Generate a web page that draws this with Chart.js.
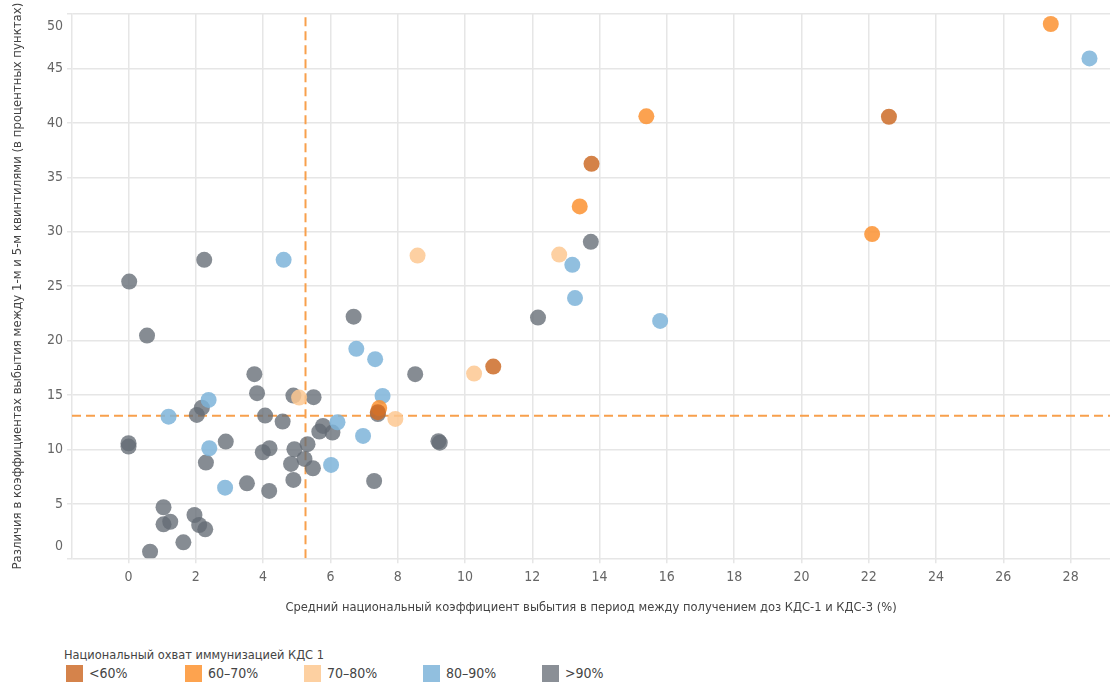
<!DOCTYPE html>
<html>
<head>
<meta charset="utf-8">
<script src="https://cdn.jsdelivr.net/npm/chart.js@4.4.0/dist/chart.umd.min.js"></script>
<style>
  body { margin: 0; background: #fff; font-family: 'DejaVu Sans Condensed', sans-serif; }
  #wrap { position: relative; width: 1110px; height: 683px; overflow: hidden; }
  #box { position: absolute; left: 0; top: 0; width: 1110px; height: 625px; }
  #legend { position: absolute; left: 64px; top: 647px; color: #444; }
  #legend .title { font-size: 12.7px; line-height: 16px; }
  #legend .items { position: relative; height: 18px; margin-top: 2px; margin-left: 2px; }
  #legend .item { position: absolute; top: 0; font-size: 14px; line-height: 17px; white-space: nowrap; }
  #legend .sw { display: inline-block; width: 17px; height: 17px; vertical-align: top; margin-right: 6px; }
</style>
</head>
<body>
<div id="wrap">
  <div id="box"><canvas id="scatter-dropout"></canvas></div>
  <div id="legend"></div>
</div>
<script>
// Доли охвата КДС 1 — группы стран: [x, y]
const groupLabels = ['<60%', '60–70%', '70–80%', '80–90%', '>90%'];
const legendColors = ['#d5834b', '#fda34f', '#fdd0a1', '#91bfdf', '#8a8f96'];
const pointColors = ['rgba(204,108,40,0.85)', 'rgba(251,146,49,0.85)', 'rgba(253,200,146,0.85)',
                     'rgba(126,180,217,0.85)', 'rgba(100,107,117,0.78)'];

const lt60 = [[7.41, 13.42], [10.84, 17.61], [13.76, 36.24], [22.6, 40.56]];
const p60to70 = [[7.45, 13.8], [13.41, 32.32], [15.39, 40.6], [22.1, 29.78], [27.41, 49.08]];
const p70to80 = [[5.07, 14.76], [7.93, 12.8], [8.59, 27.81], [10.27, 16.97], [12.8, 27.9]];
const p80to90 = [[1.19, 13.01], [2.38, 14.55], [2.40, 10.11], [2.87, 6.49], [4.61, 27.42], [6.02, 8.58],
                 [6.21, 12.5], [6.77, 19.24], [6.97, 11.24], [7.33, 18.29], [7.55, 14.92], [13.19, 26.96],
                 [13.27, 23.9], [15.8, 21.81], [28.56, 45.92]];
const gt90 = [[0.02, 25.42], [0.55, 20.46], [2.25, 27.42], [0, 10.57], [0, 10.26], [1.04, 4.69], [1.04, 3.12],
              [1.24, 3.36], [0.64, 0.61], [1.63, 1.47], [1.96, 3.98], [2.10, 3.06], [2.28, 2.66], [2.03, 13.17],
              [2.18, 13.84], [2.30, 8.79], [2.89, 10.72], [3.52, 6.89], [3.74, 16.91], [3.82, 15.17], [4.06, 13.11],
              [3.99, 9.74], [4.19, 10.11], [4.18, 6.19], [4.58, 12.56], [4.90, 14.95], [5.50, 14.80], [4.93, 10.02],
              [4.83, 8.67], [4.90, 7.20], [5.32, 10.48], [5.23, 9.13], [5.48, 8.27], [5.67, 11.64], [5.78, 12.16],
              [6.06, 11.55], [6.69, 22.2], [7.30, 7.10], [7.41, 13.25], [8.52, 16.91], [9.21, 10.75], [9.25, 10.62],
              [12.17, 22.11], [13.74, 29.07]];
const groups = [lt60, p60to70, p70to80, p80to90, gt90];

// средние значения (пунктир)
const meanX = 5.26;
const meanY = 13.1;
const xMin = -1.68, xMax = 29.17, yMin = 0, yMax = 50;

const xTitle = 'Средний национальный коэффициент выбытия в период между получением доз КДС-1 и КДС-3 (%)';
const yTitle = 'Различия в коэффициентах выбытия между 1-м и 5-м квинтилями (в процентных пунктах)';
const legendTitle = 'Национальный охват иммунизацией КДС 1';

const FONT = "'DejaVu Sans Condensed', sans-serif";
const gridColor = '#e6e6e6';
const dashColor = '#f8a04c';

const datasets = groups.map((g, i) => ({
    type: 'scatter',
    label: groupLabels[i],
    data: g.map(p => ({ x: p[0], y: p[1] })),
    backgroundColor: pointColors[i],
    borderWidth: 0,
    pointRadius: 8,
    pointHoverRadius: 8,
    order: 0
}));

datasets.push({
    type: 'line',
    label: 'meanX',
    data: [{ x: meanX, y: yMin }, { x: meanX, y: yMax }],
    borderColor: dashColor, borderWidth: 2, borderDash: [9, 5],
    pointRadius: 0, fill: false, order: 5
});
datasets.push({
    type: 'line',
    label: 'meanY',
    data: [{ x: xMin, y: meanY }, { x: xMax, y: meanY }],
    borderColor: dashColor, borderWidth: 2, borderDash: [9, 5],
    pointRadius: 0, fill: false, order: 5
});

new Chart(document.getElementById('scatter-dropout'), {
    data: { datasets: datasets },
    options: {
        responsive: true,
        maintainAspectRatio: false,
        animation: false,
        layout: { autoPadding: false, padding: { top: 14, left: 10, right: 0, bottom: 8.5 } },
        plugins: {
            legend: { display: false },
            tooltip: { enabled: false }
        },
        scales: {
            x: {
                type: 'linear',
                min: xMin, max: xMax,
                grid: { color: gridColor, lineWidth: 1.5, tickLength: 5 },
                border: { display: false },
                ticks: {
                    stepSize: 2, includeBounds: false, padding: 6, color: '#666',
                    font: { family: FONT, size: 14 }
                },
                title: {
                    display: true, text: xTitle, color: '#444',
                    font: { family: FONT, size: 12.8 },
                    padding: { top: 14, bottom: 1 }
                },
                afterFit: function (axis) { axis.height = 58.2; axis.paddingLeft = 0; axis.paddingRight = 0; }
            },
            y: {
                type: 'linear',
                min: yMin, max: yMax,
                grid: { color: gridColor, lineWidth: 1.5, tickLength: 5 },
                border: { display: true, color: gridColor, width: 1.5 },
                ticks: {
                    stepSize: 5, padding: 4, color: '#666',
                    font: { family: FONT, size: 14, lineHeight: 1.7 },
                    // крайние подписи сдвинуты внутрь области
                    callback: function (v) {
                        if (v === yMax) return ['', String(v)];
                        if (v === yMin) return [String(v), ''];
                        return String(v);
                    }
                },
                title: {
                    display: true, text: yTitle, color: '#444',
                    font: { family: FONT, size: 13.05 },
                    padding: { top: 0, bottom: 0 }
                },
                afterFit: function (axis) { axis.width = 62; axis.paddingTop = 0; axis.paddingBottom = 0; }
            }
        }
    }
});

// легенда
const legend = document.getElementById('legend');
let html = '<div class="title">' + legendTitle + '</div><div class="items">';
groupLabels.forEach((lab, i) => {
    html += '<div class="item" style="left:' + (i * 119) + 'px"><span class="sw" style="background:' +
        legendColors[i] + '"></span>' + lab.replace('<', '&lt;').replace('>', '&gt;') + '</div>';
});
html += '</div>';
legend.innerHTML = html;
</script>
</body>
</html>
